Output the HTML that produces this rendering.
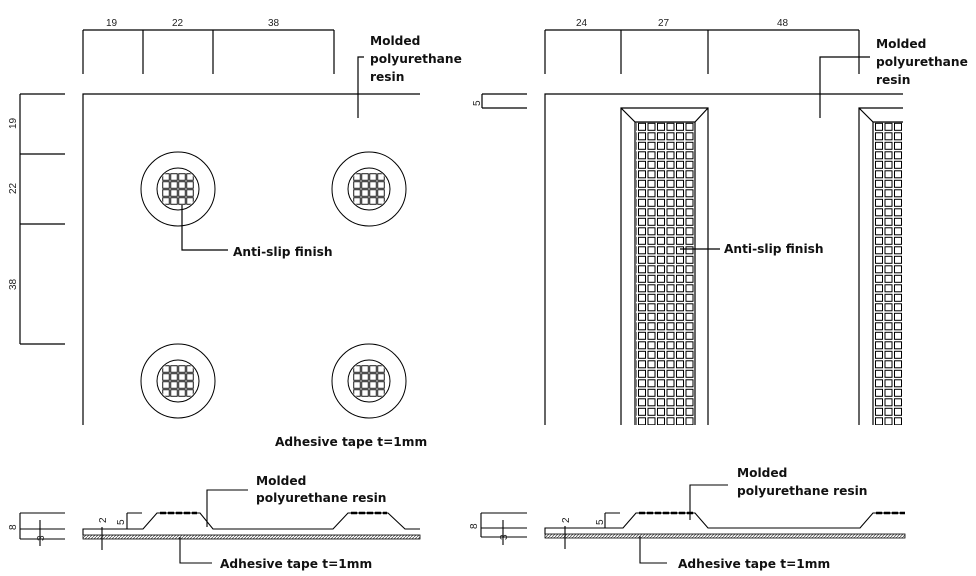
<!DOCTYPE html>
<html><head><meta charset="utf-8"><style>
html,body{margin:0;padding:0;background:#fff;}
svg{display:block;}
.b{font-family:"DejaVu Sans","Liberation Sans",sans-serif;font-weight:bold;font-size:12.2px;fill:#111;}
.n{font-family:"Liberation Sans",sans-serif;font-size:10px;fill:#222;}
</style></head><body>
<svg width="976" height="576" viewBox="0 0 976 576" xmlns="http://www.w3.org/2000/svg">
<defs>
<pattern id="sq2" x="637.5" y="122" width="9.5" height="9.5" patternUnits="userSpaceOnUse"><rect x="1" y="1.3" width="7" height="7" fill="none" stroke="#000" stroke-width="1"/></pattern>
<pattern id="sq3" x="874.5" y="122" width="9.5" height="9.5" patternUnits="userSpaceOnUse"><rect x="1" y="1.3" width="7" height="7" fill="none" stroke="#000" stroke-width="1"/></pattern>
<pattern id="hat" width="3" height="3" patternUnits="userSpaceOnUse"><path d="M0,3 L3,0" stroke="#555" stroke-width="0.8"/></pattern>
<clipPath id="cc"><circle cx="0" cy="0" r="20"/></clipPath>
<g id="btn">
<circle cx="0" cy="0" r="37" fill="none" stroke="#000"/>
<circle cx="0" cy="0" r="21" fill="none" stroke="#000"/>
<g clip-path="url(#cc)" fill="none" stroke="#000" stroke-width="0.9">
<rect x="-15.25" y="-15.25" width="6.5" height="6.5"/><rect x="-7.25" y="-15.25" width="6.5" height="6.5"/><rect x="0.75" y="-15.25" width="6.5" height="6.5"/><rect x="8.75" y="-15.25" width="6.5" height="6.5"/>
<rect x="-15.25" y="-7.25" width="6.5" height="6.5"/><rect x="-7.25" y="-7.25" width="6.5" height="6.5"/><rect x="0.75" y="-7.25" width="6.5" height="6.5"/><rect x="8.75" y="-7.25" width="6.5" height="6.5"/>
<rect x="-15.25" y="0.75" width="6.5" height="6.5"/><rect x="-7.25" y="0.75" width="6.5" height="6.5"/><rect x="0.75" y="0.75" width="6.5" height="6.5"/><rect x="8.75" y="0.75" width="6.5" height="6.5"/>
<rect x="-15.25" y="8.75" width="6.5" height="6.5"/><rect x="-7.25" y="8.75" width="6.5" height="6.5"/><rect x="0.75" y="8.75" width="6.5" height="6.5"/><rect x="8.75" y="8.75" width="6.5" height="6.5"/>
</g>
</g>
</defs>
<g stroke="#000" stroke-width="1.2" fill="none">
<path d="M83,30 H334 M83,30 V74 M143,30 V74 M213,30 V74 M334,30 V74"/>
<path d="M20,94 V344 M20,94 H65 M20,154 H65 M20,224 H65 M20,344 H65"/>
<path d="M83,425 V94 H420"/>
<path d="M358,118 V57 H364"/>
<path d="M182,205 V250 H228"/>
</g>
<use href="#btn" x="178" y="189"/>
<use href="#btn" x="369" y="189"/>
<use href="#btn" x="178" y="381"/>
<use href="#btn" x="369" y="381"/>
<text class="n" x="106" y="26">19</text><text class="n" x="172" y="26">22</text><text class="n" x="268" y="26">38</text>
<text class="n" transform="translate(16,129) rotate(-90)">19</text>
<text class="n" transform="translate(16,194) rotate(-90)">22</text>
<text class="n" transform="translate(16,290) rotate(-90)">38</text>
<text class="b" x="370" y="45">Molded</text>
<text class="b" x="370" y="63">polyurethane</text>
<text class="b" x="370" y="81">resin</text>
<text class="b" x="233" y="256">Anti-slip finish</text>
<text class="b" x="275" y="446">Adhesive tape t=1mm</text>

<g stroke="#000" stroke-width="1.2" fill="none">
<path d="M545,30 H859 M545,30 V74 M621,30 V74 M708,30 V74 M859,30 V74"/>
<path d="M482,94 V108 M482,94 H527 M482,108 H527"/>
<path d="M545,425 V94 H903"/>
<path d="M621,425 V108 H708 V425 M635,425 V122 H695 V425 M621,108 L635,122 M708,108 L695,122"/>
<path d="M859,425 V108 H903 M873,425 V122 H903 M859,108 L873,122"/>
<path d="M820,118 V57 H870"/>
<path d="M680,249 H720"/>
</g>
<rect x="636" y="122" width="58" height="303" fill="url(#sq2)"/>
<rect x="874" y="122" width="29" height="303" fill="url(#sq3)"/>
<text class="n" x="576" y="26">24</text><text class="n" x="658" y="26">27</text><text class="n" x="777" y="26">48</text>
<text class="n" transform="translate(480,106) rotate(-90)">5</text>
<text class="b" x="876" y="48">Molded</text>
<text class="b" x="876" y="66">polyurethane</text>
<text class="b" x="876" y="84">resin</text>
<text class="b" x="724" y="253">Anti-slip finish</text>

<rect x="83" y="535" width="337" height="4" fill="url(#hat)" stroke="#000" stroke-width="0.8"/>
<g stroke="#000" stroke-width="1.1" fill="none">
<path d="M83,535 V529 H143 L157,513 H200 L213,529 H333 L348,513 H388 L405,529 H420"/>
<path d="M20,513 V539 M20,513 H65 M20,529 H65 M20,539 H65"/>
<path d="M40,520 V546 M102,527 V550 M127,513 V529 M127,513 H142"/>
<path d="M207,527 V490 H248"/>
<path d="M180,537 V563 H212"/>
</g>
<path d="M160,513 H197 M351,513 H387" stroke="#000" stroke-width="2.5" stroke-dasharray="6,2"/>
<text class="n" transform="translate(16,530) rotate(-90)">8</text>
<text class="n" transform="translate(44,541) rotate(-90)">3</text>
<text class="n" transform="translate(106,523) rotate(-90)">2</text>
<text class="n" transform="translate(124,525) rotate(-90)">5</text>
<text class="b" x="256" y="485">Molded</text>
<text class="b" x="256" y="502">polyurethane resin</text>
<text class="b" x="220" y="568">Adhesive tape t=1mm</text>

<rect x="545" y="534" width="360" height="4" fill="url(#hat)" stroke="#000" stroke-width="0.8"/>
<g stroke="#000" stroke-width="1.1" fill="none">
<path d="M545,534 V528 H623 L636,513 H695 L708,528 H860 L873,513 H905"/>
<path d="M481,513 V537 M481,513 H527 M481,528 H527 M481,537 H527"/>
<path d="M503,520 V545 M565,526 V549 M605,513 V528 M605,513 H620"/>
<path d="M690,520 V485 H728"/>
<path d="M640,536 V563 H667"/>
</g>
<path d="M639,513 H694 M876,513 H905" stroke="#000" stroke-width="2.5" stroke-dasharray="6,2"/>
<text class="n" transform="translate(477,529) rotate(-90)">8</text>
<text class="n" transform="translate(507,540) rotate(-90)">3</text>
<text class="n" transform="translate(569,523) rotate(-90)">2</text>
<text class="n" transform="translate(603,525) rotate(-90)">5</text>
<text class="b" x="737" y="477">Molded</text>
<text class="b" x="737" y="495">polyurethane resin</text>
<text class="b" x="678" y="568">Adhesive tape t=1mm</text>
</svg>
</body></html>
